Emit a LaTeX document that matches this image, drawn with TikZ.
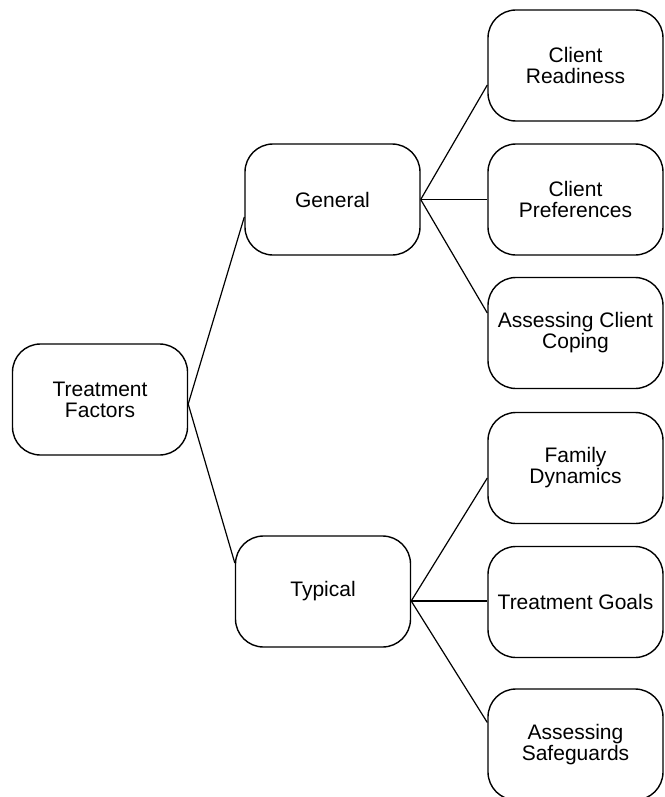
\documentclass[tikz,border=0pt]{standalone}
\usepackage{fontspec}
\setmainfont{Liberation Sans}
\begin{document}
\begin{tikzpicture}[x=0.5pt,y=-0.5pt,
  factor/.style={draw,line width=0.7pt,rounded corners=14pt,align=center,
    minimum width=87.5pt,minimum height=55.5pt,inner sep=0pt,
    font=\fontsize{10.5}{10.5}\selectfont},
  link/.style={line width=0.6pt}]
\useasboundingbox (0,0) rectangle (664,797);
\node [factor] (treatment) at (100,399.5) {Treatment\\Factors};
\node [factor] (general) at (332.5,199.5) {General};
\node [factor] (typical) at (323,591.5) {Typical};
\node [factor] (readiness) at (575.5,65.5) {Client\\Readiness};
\node [factor] (preferences) at (575.5,199.5) {Client\\Preferences};
\node [factor] (coping) at (575.5,333) {Assessing Client\\Coping};
\node [factor] (family) at (575.5,468) {Family\\Dynamics};
\node [factor] (goals) at (575.5,602) {Treatment Goals};
\node [factor] (safeguards) at (575.5,744.5) {Assessing\\Safeguards};
\draw [link] ([yshift=-2.25pt]treatment.east) -- ([yshift=-8.75pt]general.west);
\draw [link] ([yshift=-2.25pt]treatment.east) -- ([yshift=14.25pt]typical.west);
\draw [link] (general.east) -- ([yshift=-9.75pt]readiness.west);
\draw [link] (general.east) -- (preferences.west);
\draw [link] (general.east) -- ([yshift=10pt]coping.west);
\draw [link] ([yshift=-4.75pt]typical.east) -- ([yshift=-5pt]family.west);
\draw [link] ([yshift=-4.75pt]typical.east) -- ([yshift=0.5pt]goals.west);
\draw [link] ([yshift=-4.75pt]typical.east) -- ([yshift=11pt]safeguards.west);
\end{tikzpicture}
\end{document}
